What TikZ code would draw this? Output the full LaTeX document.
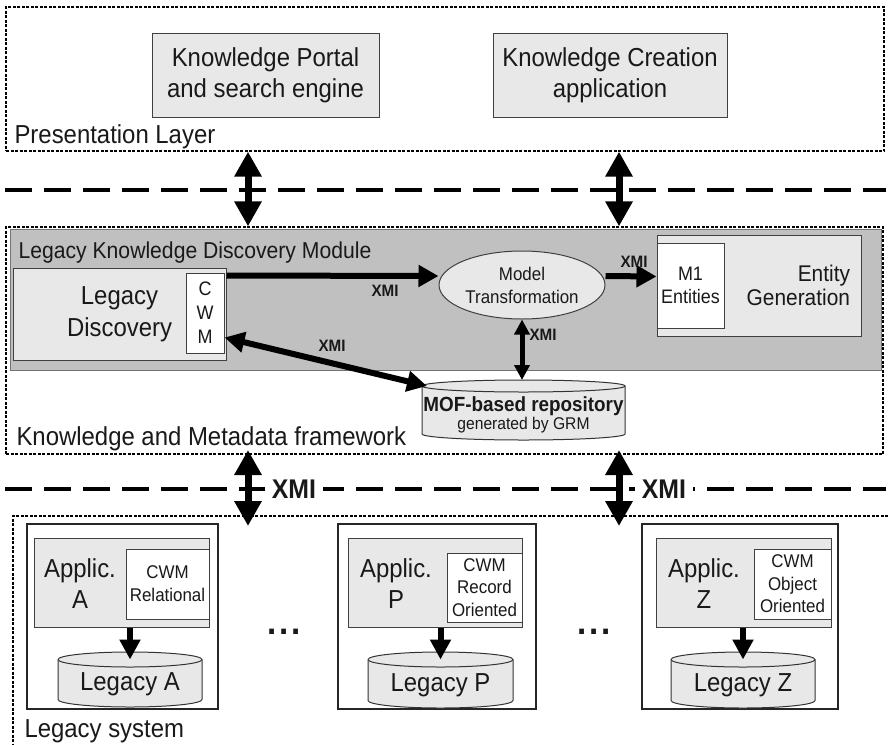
\documentclass[tikz,border=0pt]{standalone}
\usepackage{fontspec}
\setmainfont[FakeStretch=0.92]{Liberation Sans}
\usetikzlibrary{arrows.meta,shapes.geometric}
\definecolor{lightg}{RGB}{232,232,232}
\definecolor{modg}{RGB}{192,192,192}
\definecolor{txt}{RGB}{25,25,25}
\newcommand\fs[2]{\fontsize{#1}{#2}\selectfont}
% cylinder: name, x1, x2, yTop, yBottom, ry
\newcommand\cyl[6]{%
  \pgfmathsetmacro\cxc{(#2+#3)/2}%
  \pgfmathsetmacro\crx{(#3-#2)/2}%
  \filldraw[draw=black!80, fill=lightg, line width=1pt]
    (#2,#4+#6) -- (#2,#5-#6)
    arc[start angle=180,end angle=360,x radius=\crx pt,y radius=#6 pt]
    -- (#3,#4+#6)
    arc[start angle=0,end angle=180,x radius=\crx pt,y radius=#6 pt] -- cycle;
  \draw[black!80, line width=1pt] (#3,#4+#6)
    arc[start angle=0,end angle=-180,x radius=\crx pt,y radius=#6 pt];
  \coordinate (#1-top) at (\cxc,#4+#6);
  \coordinate (#1-tt) at (\cxc,#4);
  \coordinate (#1-l) at (#2+5,#4+#6);
}
\begin{document}
\begin{tikzpicture}[x=1pt,y=-1pt,
  every node/.append style={text=txt},
  box/.style={draw=black!75, line width=1pt, inner sep=0pt, align=center},
  lbox/.style={box, fill=lightg},
  wbox/.style={box, fill=white},
  frame/.style={draw=black!85, line width=1.6pt, inner sep=0pt},
  layer/.style={draw=black, line width=1.3pt, dash pattern=on 3pt off 1.5pt, inner sep=0pt},
  sep/.style={draw=black, line width=4.5pt, dash pattern=on 27pt off 12pt},
  dbl/.style={line width=7pt, {Triangle[length=25pt,width=26pt]}-{Triangle[length=25pt,width=26pt]}},
  xarr/.style={line width=6pt, -{Triangle[length=20pt,width=21pt]}},
  xdbl/.style={line width=6pt, {Triangle[length=20pt,width=20pt]}-{Triangle[length=20pt,width=20pt]}},
  vdbl/.style={line width=5pt, {Triangle[length=15pt,width=15pt]}-{Triangle[length=15pt,width=15pt]}},
  darr/.style={line width=6pt, -{Triangle[length=20pt,width=20pt]}},
  xmi/.style={font=\fs{16.5}{19}\bfseries, inner sep=1pt},
  bigxmi/.style={font=\fs{27}{30}\bfseries, fill=white, inner xsep=7pt, inner ysep=2pt},
  lab/.style={anchor=base west, font=\fs{26}{30}},
  dots/.style={anchor=base, font=\fs{36}{36}\bfseries}
]
\clip (0,0) rectangle (890,744);
\fill[white] (0,0) rectangle (890,744);

% ---------------- Presentation layer
\node[layer, minimum width=878pt, minimum height=144pt] (pl) at (445,79) {};
\node[lab] (plt) at (11,143) {Presentation Layer};
\node[lbox, minimum width=227pt, minimum height=84pt, font=\fs{26}{31}] (kp) at (265.5,75) {Knowledge Portal\\and search engine};
\node[lbox, minimum width=234pt, minimum height=84pt, font=\fs{26}{31}] (kc) at (610,75) {Knowledge Creation\\application};

% separator 1
\coordinate (s1a) at (5,190);
\coordinate (s1b) at (886,190);
\draw[sep] (s1a) -- (s1b);

% ---------------- Knowledge and Metadata framework
\node[layer, minimum width=877pt, minimum height=227pt] (kmf) at (444.5,340.5) {};
\node[draw=black!55, fill=modg, line width=1pt, minimum width=871pt, minimum height=141pt, inner sep=0pt] (lkdm) at (445.5,299.5) {};
\node[anchor=base west, font=\fs{23}{26}] (lkdmt) at (15,258) {Legacy Knowledge Discovery Module};
\node[lab] (kmft) at (13,445) {Knowledge and Metadata framework};

\node[lbox, minimum width=213pt, minimum height=92pt, font=\fs{26}{32}] (ld) at (119.5,314) {Legacy\\Discovery};
\node[wbox, minimum width=38pt, minimum height=80pt, font=\fs{19.5}{24}] (cwm) at (205,313) {C\\W\\M};

\node[ellipse, draw=black!75, fill=lightg, line width=1pt, minimum width=166pt, minimum height=68pt, inner sep=0pt, align=center, font=\fs{18.4}{23}] (mt) at (522,285) {Model\\Transformation};

\node[lbox, minimum width=204pt, minimum height=101pt, text width=182pt, align=right, font=\fs{22.7}{24}] (eg) at (759,285.5) {Entity\\Generation};
\node[wbox, minimum width=67pt, minimum height=85pt, font=\fs{19.5}{23}] (m1) at (690.5,285.5) {M1\\Entities};

\cyl{mof}{422}{625}{380}{440}{6}
\node[anchor=base, font=\fs{20.5}{22}\bfseries] (mofa) at (523.5,411) {MOF-based repository};
\node[anchor=base, font=\fs{17}{20}] (mofb) at (523.5,429) {generated by GRM};

% arrows inside framework
\draw[xarr] ([yshift=-8pt]ld.north east) -- ([yshift=9pt]mt.west);
\node[xmi] (x1) at (385,291) {XMI};
\draw[xdbl] ([yshift=16pt]cwm.south east) -- (mof-l);
\node[xmi] (x2) at (332,346) {XMI};
\draw[vdbl] (mt.south) -- (mt.south |- mof-tt);
\node[xmi] (x3) at (543,335) {XMI};
\draw[xarr] ([yshift=9pt]mt.east) -- ([yshift=9pt]m1.west);
\node[xmi] (x4) at (634,262) {XMI};

% arrows presentation <-> framework
\coordinate (c1) at (248,0);
\coordinate (c2) at (619,0);
\draw[dbl] (c1 |- pl.south) -- (c1 |- kmf.north);
\draw[dbl] (c2 |- pl.south) -- (c2 |- kmf.north);

% ---------------- Legacy system
\node[layer, minimum width=887pt, minimum height=244pt] (ls) at (456.5,638) {};
\node[lab] (lst) at (21,737) {Legacy system};

% frames
\node[frame, minimum width=191pt, minimum height=185pt] (fA) at (122.5,616.5) {};
\node[frame, minimum width=198pt, minimum height=185pt] (fP) at (437,616.5) {};
\node[frame, minimum width=196pt, minimum height=185pt] (fZ) at (740,616.5) {};

\node[lbox, minimum width=175pt, minimum height=89pt] (apA) at (121.5,582.5) {};
\node[lbox, minimum width=174pt, minimum height=89pt] (apP) at (435,582.5) {};
\node[lbox, minimum width=175pt, minimum height=89pt] (apZ) at (743.5,582.5) {};
\node[align=center, font=\fs{26}{31}] (apAt) at (80,584) {Applic.\\A};
\node[align=center, font=\fs{26}{31}] (apPt) at (396,584) {Applic.\\P};
\node[align=center, font=\fs{26}{31}] (apZt) at (704,584) {Applic.\\Z};

\node[wbox, minimum width=83pt, minimum height=70pt, font=\fs{18.4}{23}] (cwA) at (167.5,584) {CWM\\Relational};
\node[wbox, minimum width=75pt, minimum height=69pt, font=\fs{18.4}{22.5}] (cwP) at (484.5,587.5) {CWM\\Record\\Oriented};
\node[wbox, minimum width=77pt, minimum height=70pt, font=\fs{18.4}{22.5}] (cwZ) at (792.5,584) {CWM\\Object\\Oriented};

\cyl{cA}{58}{202}{652}{707}{7.5}
\cyl{cP}{368}{513}{652}{708}{7.5}
\cyl{cZ}{671}{815}{652}{708}{7.5}
\node[font=\fs{26}{28}] (cAt) at (130,684) {Legacy A};
\node[font=\fs{26}{28}] (cPt) at (440.5,685) {Legacy P};
\node[font=\fs{26}{28}] (cZt) at (743,685) {Legacy Z};

\draw[darr] (cA-top |- apA.south) -- (cA-top);
\draw[darr] (cP-top |- apP.south) -- (cP-top);
\draw[darr] (cZ-top |- apZ.south) -- (cZ-top);

\node[dots] (d1) at (284,634) {.\hspace{3pt}.\hspace{3pt}.};
\node[dots] (d2) at (594,634) {.\hspace{3pt}.\hspace{3pt}.};

% separator 2 and arrows framework <-> legacy
\coordinate (s2a) at (5,489);
\coordinate (s2b) at (886,489);
\draw[sep] (s2a) -- (s2b);
\coordinate (b1s) at (248,450);
\coordinate (b1e) at (248,526);
\coordinate (b2s) at (619,450);
\coordinate (b2e) at (619,526);
\draw[dbl] (b1s) -- (b1e);
\draw[dbl] (b2s) -- (b2e);
\node[bigxmi] (X1) at (294,489) {XMI};
\node[bigxmi] (X2) at (664,489) {XMI};
\end{tikzpicture}
\end{document}
